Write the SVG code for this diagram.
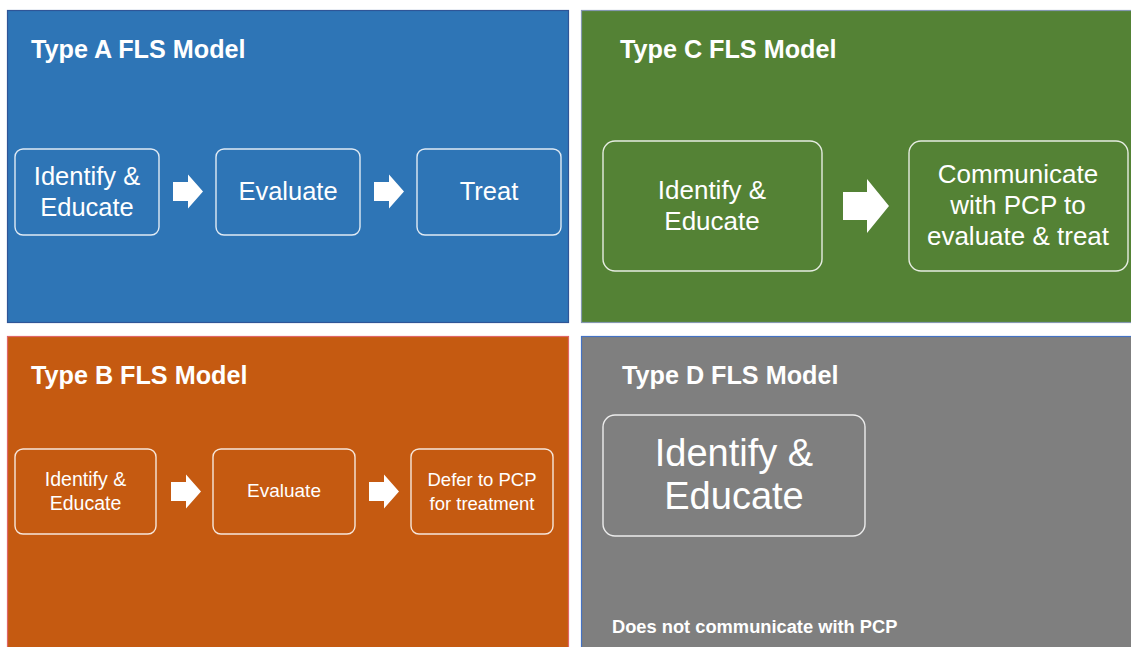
<svg xmlns="http://www.w3.org/2000/svg" width="1131" height="647" viewBox="0 0 1131 647">
  <style>
    .panel { stroke-width: 1.2; }
    .title { font-family: "Liberation Sans", Arial, sans-serif; font-weight: bold; font-size: 25.2px; fill: #ffffff; }
    .note { font-family: "Liberation Sans", Arial, sans-serif; font-weight: bold; font-size: 18.3px; fill: #ffffff; }
    .box { fill: none; stroke: #ffffff; stroke-opacity: 0.85; stroke-width: 1.4; }
    .lbl { font-family: "Liberation Sans", Arial, sans-serif; fill: #ffffff; text-anchor: middle; }
    .arrow { fill: #ffffff; }
  </style>
  <defs>
    <!-- block arrows pointing right, origin at left/middle -->
    <path id="blk" d="M0,-9.5 H15 V-17 L30,0 L15,17 V9.5 H0 Z"/>
    <path id="blkL" d="M0,-14 H24 V-27 L46,0 L24,27 V14 H0 Z"/>
  </defs>

  <rect width="1131" height="647" fill="#ffffff"/>

  <!-- Type A -->
  <g id="panelA">
    <rect class="panel" x="7.5" y="10.5" width="561" height="312" fill="#2E75B6" stroke="#2F5597"/>
    <text class="title" x="31" y="58">Type A FLS Model</text>
  </g>
  <g id="a-identify">
    <rect class="box" x="15" y="149" width="144" height="86" rx="8"/>
    <text class="lbl" x="87" y="185" font-size="25.5">Identify &amp;</text>
    <text class="lbl" x="87" y="216" font-size="25.5">Educate</text>
  </g>
  <g id="a-evaluate">
    <rect class="box" x="216" y="149" width="144" height="86" rx="8"/>
    <text class="lbl" x="288" y="200" font-size="25.5">Evaluate</text>
  </g>
  <g id="a-treat">
    <rect class="box" x="417" y="149" width="144" height="86" rx="8"/>
    <text class="lbl" x="489" y="200" font-size="25.5">Treat</text>
  </g>

  <!-- Type C -->
  <g id="panelC">
    <rect class="panel" x="581.5" y="10.5" width="551" height="312" fill="#548235" stroke="#8497B0"/>
    <text class="title" x="620" y="58">Type C FLS Model</text>
  </g>
  <g id="c-identify">
    <rect class="box" x="603" y="141" width="219" height="130" rx="12"/>
    <text class="lbl" x="712" y="199" font-size="26">Identify &amp;</text>
    <text class="lbl" x="712" y="230" font-size="26">Educate</text>
  </g>
  <g id="c-communicate">
    <rect class="box" x="909" y="141" width="219" height="130" rx="12"/>
    <text class="lbl" x="1018" y="183" font-size="26">Communicate</text>
    <text class="lbl" x="1018" y="214" font-size="26">with PCP to</text>
    <text class="lbl" x="1018" y="245" font-size="26">evaluate &amp; treat</text>
  </g>

  <!-- Type B -->
  <g id="panelB">
    <rect class="panel" x="7.5" y="336.5" width="561" height="312" fill="#C55A11" stroke="#E06666"/>
    <text class="title" x="31" y="384">Type B FLS Model</text>
  </g>
  <g id="b-identify">
    <rect class="box" x="15" y="449" width="141" height="85" rx="8"/>
    <text class="lbl" x="85.5" y="486" font-size="19.5">Identify &amp;</text>
    <text class="lbl" x="85.5" y="510" font-size="19.5">Educate</text>
  </g>
  <g id="b-evaluate">
    <rect class="box" x="213" y="449" width="142" height="85" rx="8"/>
    <text class="lbl" x="284" y="497" font-size="19">Evaluate</text>
  </g>
  <g id="b-defer">
    <rect class="box" x="411" y="449" width="142" height="85" rx="8"/>
    <text class="lbl" x="482" y="486" font-size="18.5">Defer to PCP</text>
    <text class="lbl" x="482" y="510" font-size="18.5">for treatment</text>
  </g>

  <!-- Type D -->
  <g id="panelD">
    <rect class="panel" x="581.5" y="336.5" width="551" height="312" fill="#7F7F7F" stroke="#4472C4"/>
    <text class="title" x="622" y="384">Type D FLS Model</text>
    <text class="note" x="612" y="633">Does not communicate with PCP</text>
  </g>
  <g id="d-identify">
    <rect class="box" x="603" y="415" width="262" height="121" rx="12"/>
    <text class="lbl" x="734" y="466" font-size="38">Identify &amp;</text>
    <text class="lbl" x="734" y="509" font-size="38">Educate</text>
  </g>

  <!-- connectors -->
  <g id="connectors" class="arrow">
    <use href="#blk" x="173" y="191.5"/>
    <use href="#blk" x="374" y="191.5"/>
    <use href="#blkL" x="843" y="206"/>
    <use href="#blk" x="171" y="491.5"/>
    <use href="#blk" x="369" y="491.5"/>
  </g>
</svg>
